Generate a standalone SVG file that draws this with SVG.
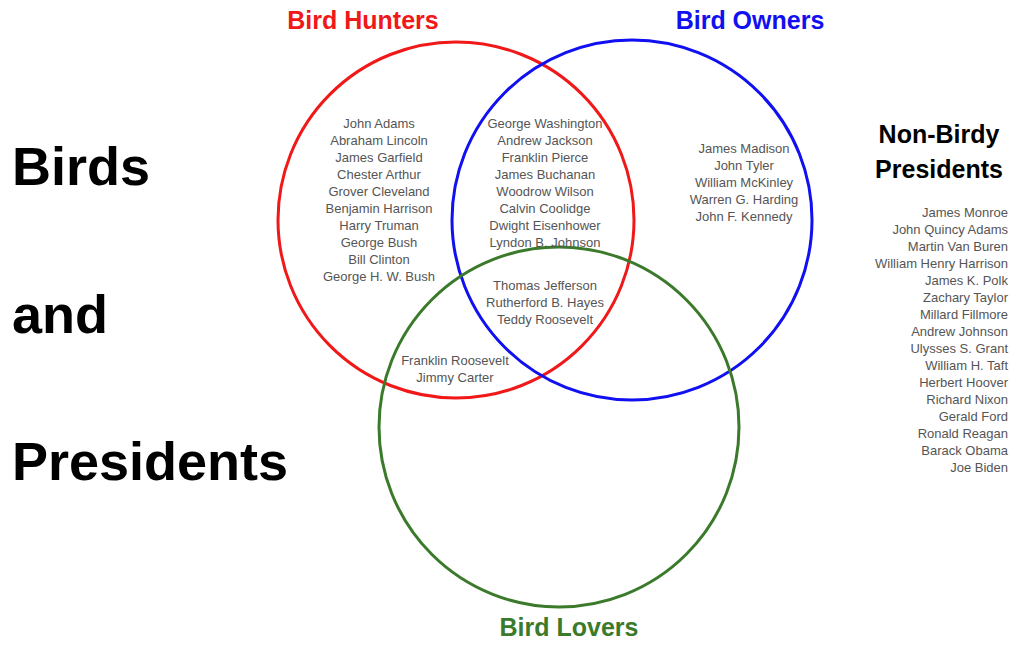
<svg xmlns="http://www.w3.org/2000/svg" width="1024" height="647" viewBox="0 0 1024 647">
<style>
.c{fill:none;stroke-width:3}
.n{font-family:"Liberation Sans",Arial,sans-serif;font-size:13px;fill:#555;text-anchor:middle}
.r{text-anchor:end}
.t{font-family:"Liberation Sans",Arial,sans-serif;font-weight:bold;font-size:25px;text-anchor:middle}
.b{font-family:"Liberation Sans",Arial,sans-serif;font-weight:bold;font-size:54px;fill:#000}
</style>
<rect width="1024" height="647" fill="#fff"/>
<g id="hunters"><circle class="c" cx="456" cy="220" r="178" stroke="#f01818"/><text class="t" x="363" y="29" fill="#f01818">Bird Hunters</text></g>
<g id="owners"><circle class="c" cx="632" cy="220" r="180" stroke="#1010f0"/><text class="t" x="750" y="29" fill="#1010f0">Bird Owners</text></g>
<g id="lovers"><circle class="c" cx="559" cy="427" r="180" stroke="#3a7a2a"/><text class="t" x="569" y="636" fill="#3a7a2a">Bird Lovers</text></g>
<g id="title"><text class="b" x="12" y="185">Birds</text><text class="b" x="12" y="333">and</text><text class="b" x="12" y="480">Presidents</text></g>
<g id="nonbirdy"><text class="t" x="939" y="143" fill="#000">Non-Birdy</text><text class="t" x="939" y="178" fill="#000">Presidents</text>
<text class="n r" x="1008" y="217">James Monroe</text><text class="n r" x="1008" y="234">John Quincy Adams</text><text class="n r" x="1008" y="251">Martin Van Buren</text><text class="n r" x="1008" y="268">William Henry Harrison</text><text class="n r" x="1008" y="285">James K. Polk</text><text class="n r" x="1008" y="302">Zachary Taylor</text><text class="n r" x="1008" y="319">Millard Fillmore</text><text class="n r" x="1008" y="336">Andrew Johnson</text><text class="n r" x="1008" y="353">Ulysses S. Grant</text><text class="n r" x="1008" y="370">William H. Taft</text><text class="n r" x="1008" y="387">Herbert Hoover</text><text class="n r" x="1008" y="404">Richard Nixon</text><text class="n r" x="1008" y="421">Gerald Ford</text><text class="n r" x="1008" y="438">Ronald Reagan</text><text class="n r" x="1008" y="455">Barack Obama</text><text class="n r" x="1008" y="472">Joe Biden</text></g>
<g id="hunters-only"><text class="n" x="379" y="128">John Adams</text><text class="n" x="379" y="145">Abraham Lincoln</text><text class="n" x="379" y="162">James Garfield</text><text class="n" x="379" y="179">Chester Arthur</text><text class="n" x="379" y="196">Grover Cleveland</text><text class="n" x="379" y="213">Benjamin Harrison</text><text class="n" x="379" y="230">Harry Truman</text><text class="n" x="379" y="247">George Bush</text><text class="n" x="379" y="264">Bill Clinton</text><text class="n" x="379" y="281">George H. W. Bush</text></g>
<g id="hunters-owners"><text class="n" x="545" y="128">George Washington</text><text class="n" x="545" y="145">Andrew Jackson</text><text class="n" x="545" y="162">Franklin Pierce</text><text class="n" x="545" y="179">James Buchanan</text><text class="n" x="545" y="196">Woodrow Wilson</text><text class="n" x="545" y="213">Calvin Coolidge</text><text class="n" x="545" y="230">Dwight Eisenhower</text><text class="n" x="545" y="247">Lyndon B. Johnson</text></g>
<g id="owners-only"><text class="n" x="744" y="153">James Madison</text><text class="n" x="744" y="170">John Tyler</text><text class="n" x="744" y="187">William McKinley</text><text class="n" x="744" y="204">Warren G. Harding</text><text class="n" x="744" y="221">John F. Kennedy</text></g>
<g id="all-three"><text class="n" x="545" y="290">Thomas Jefferson</text><text class="n" x="545" y="307">Rutherford B. Hayes</text><text class="n" x="545" y="324">Teddy Roosevelt</text></g>
<g id="hunters-lovers"><text class="n" x="455" y="365">Franklin Roosevelt</text><text class="n" x="455" y="382">Jimmy Carter</text></g>
<g id="connectors"/>
</svg>
